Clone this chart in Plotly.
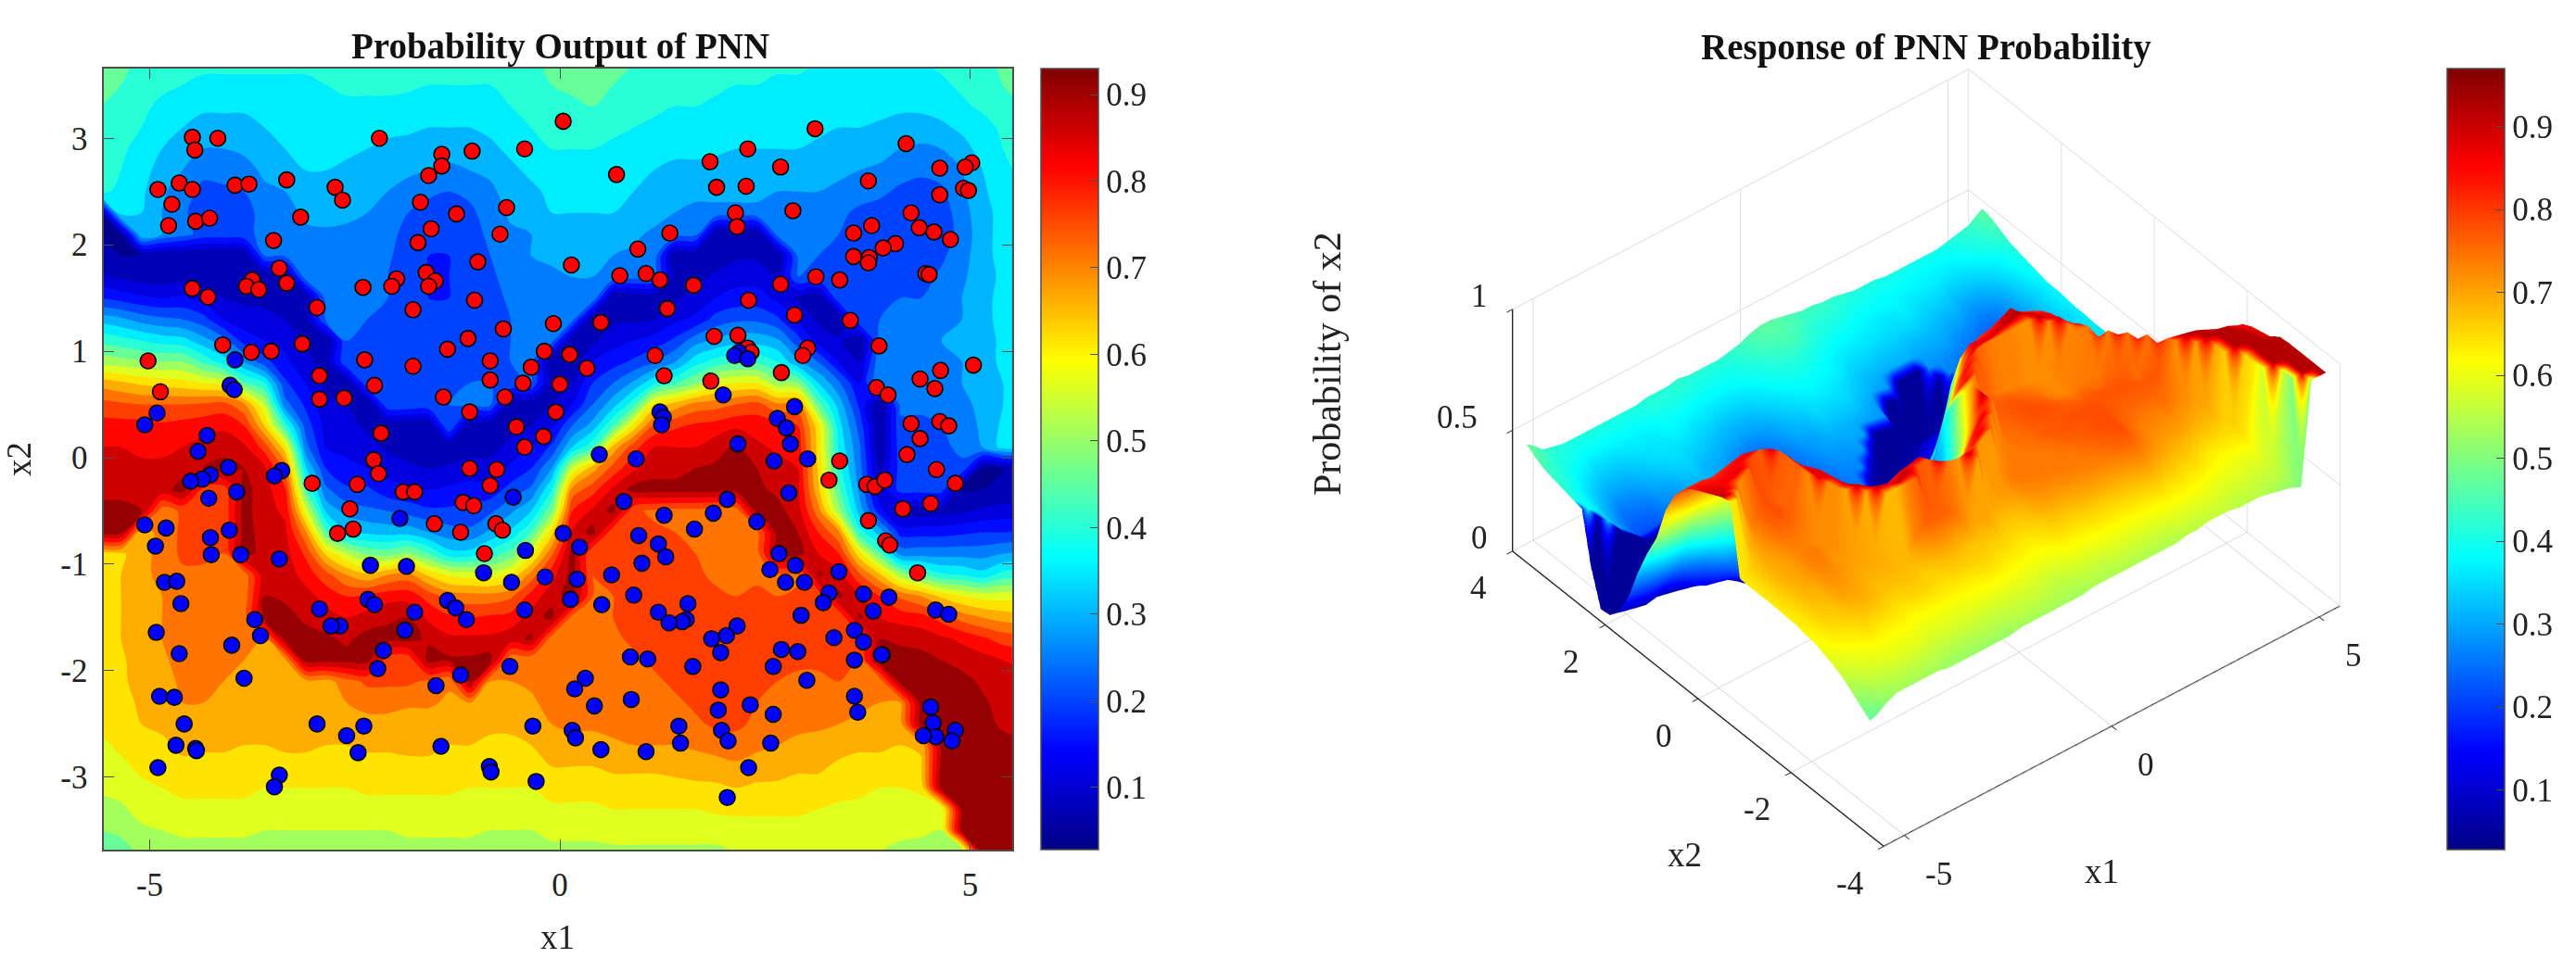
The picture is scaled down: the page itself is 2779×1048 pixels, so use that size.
import numpy as np
import plotly.graph_objects as go

W, H = 2779, 1048
SERIF = "Liberation Serif"

# MATLAB jet
jet = [[0, "rgb(0,0,132)"], [0.125, "rgb(0,0,255)"], [0.375, "rgb(0,255,255)"],
       [0.625, "rgb(255,255,0)"], [0.875, "rgb(255,0,0)"], [1, "rgb(128,0,0)"]]
# the same map as filled contours read it (by level index, from the level's lower bound)
jet_levels = [[0, "rgb(0,0,140)"], [0.156, "rgb(0,0,255)"], [0.407, "rgb(0,255,255)"],
              [0.64, "rgb(255,255,0)"], [0.895, "rgb(255,0,0)"], [1, "rgb(150,0,0)"]]

red_x1 = [-4.48,-4.45,-4.17,-2.20,0.04,-0.43,-1.07,-1.44,-1.44,-1.60,-4.90,-4.64,-4.48,-3.96,-3.79,-3.33,-2.74,-2.65,-4.73,-4.77,
 -4.44,-4.27,-3.16,-1.70,-1.26,-0.65,-1.57,-0.73,-3.49,-1.73,-3.42,-1.00,-3.75,-3.82,-3.67,-3.33,-4.48,-4.29,-2.40,-1.99,
 -2.05,-1.63,-1.52,-1.60,-2.96,-1.04,-1.79,-0.08,-0.69,-1.12,-4.11,-3.76,-3.52,-3.14,-1.37,-5.02,-2.38,-1.79,-0.85,-0.19,
 -0.35,0.12,-2.93,-4.87,-2.26,-0.85,-0.45,0.00,-2.93,-2.63,-1.42,-0.67,-1.10,-0.05,-2.18,-0.53,-0.20,-0.43,
 -2.27,-2.21,-1.10,-0.77,-3.02,-2.47,-1.91,-1.77,-0.85,-1.18,-1.05,-2.56,-2.52,-2.71,-1.53,-1.21,-0.78,-0.70,-0.92,
 3.11,4.22,0.69,2.29,1.83,2.69,4.63,5.02,4.94,3.76,1.91,2.27,4.63,4.92,4.98,2.14,2.84,4.28,2.16,3.80,4.38,4.56,4.76,3.58,1.34,
 4.09,3.94,0.95,3.58,3.77,3.76,4.46,4.50,0.14,0.73,1.05,1.22,1.63,2.69,3.12,3.41,2.30,1.31,2.86,3.54,0.50,1.88,2.17,3.89,2.29,
 2.33,3.02,2.96,1.16,0.33,5.04,4.64,4.39,2.70,1.27,1.84,4.57,3.86,4.00,4.28,4.63,4.74,4.39,4.23,4.59,3.41,
 3.28,3.74,3.84,3.96,4.82,4.18,4.52,3.76,3.97,4.02,4.36]
red_x2 = [3.01,2.89,3.00,3.00,3.16,2.90,2.88,2.85,2.74,2.65,2.52,2.58,2.52,2.56,2.57,2.61,2.54,2.42,2.38,2.18,
 2.22,2.25,2.26,2.40,2.29,2.35,2.15,2.10,2.04,2.02,1.78,1.84,1.67,1.61,1.58,1.64,1.59,1.51,1.60,1.68,
 1.61,1.74,1.66,1.61,1.41,1.48,1.39,1.26,1.21,1.12,1.06,0.99,1.00,1.07,1.02,0.91,0.92,0.86,0.91,1.00,
 0.85,0.97,0.77,0.62,0.68,0.73,0.70,0.69,0.55,0.56,0.57,0.57,0.43,0.43,0.23,0.29,0.20,0.10,
 -0.02,-0.15,-0.10,-0.11,-0.24,-0.25,-0.32,-0.32,-0.26,-0.42,-0.45,-0.48,-0.67,-0.71,-0.62,-0.70,-0.62,-0.68,-0.90,
 3.09,2.95,2.66,2.90,2.78,2.73,2.72,2.77,2.73,2.60,2.54,2.55,2.47,2.53,2.51,2.30,2.32,2.30,2.17,2.18,2.16,2.12,2.05,2.11,2.11,
 2.01,1.97,1.96,1.89,1.88,1.83,1.73,1.72,1.81,1.71,1.73,1.67,1.62,1.63,1.70,1.67,1.48,1.40,1.34,1.29,1.27,1.14,1.15,1.05,1.03,
 0.99,1.03,0.96,0.96,0.84,0.87,0.82,0.74,0.80,0.77,0.72,0.65,0.66,0.59,0.32,0.34,0.30,0.18,0.03,-0.11,-0.03,
 -0.21,-0.25,-0.27,-0.21,-0.24,-0.48,-0.43,-0.59,-0.78,-0.82,-1.08]

blue_x1 = [-3.96,-4.02,-3.97,-4.91,-5.06,-4.30,-4.41,
 -4.04,-3.39,-3.48,-4.26,-4.36,-4.50,-3.94,-4.28,-5.06,-4.80,-4.03,-4.26,-4.93,-4.25,-3.89,-3.42,-4.82,-4.67,-4.62,-4.92,-3.72,-3.65,-4.00,
 -4.64,-3.85,-4.88,-4.70,-4.58,-4.68,-4.44,-4.43,-4.90,-3.42,-3.48,-2.96,-2.39,-2.60,-2.46,-1.45,-0.86,-0.84,-0.29,-0.33,-1.51,-1.21,-0.61,
 -2.22,-2.15,-1.89,-2.68,-2.79,-2.93,-2.34,-2.26,-1.77,-1.37,-1.27,-1.14,-0.43,-0.59,-0.18,-0.93,-0.42,0.04,-1.87,-2.31,-1.95,-0.57,
 2.18,2.13,2.29,1.99,2.86,1.22,1.26,1.24,2.65,2.76,2.17,2.81,0.48,0.93,2.61,3.02,
 2.79,0.78,2.04,1.87,1.27,2.40,1.64,0.96,0.24,1.20,1.29,1.00,2.67,2.87,2.56,3.40,0.63,0.21,2.75,2.98,0.90,3.28,3.21,0.13,0.51,3.70,4.01,
 1.56,3.82,1.20,4.58,4.74,2.94,1.54,1.49,1.33,2.16,3.59,2.03,1.85,3.34,3.70,1.96,2.70,2.90,0.86,1.07,3.93,3.92,3.59,1.62,2.60,0.31,3.01,
 0.18,1.96,0.87,0.42,2.32,3.59,1.93,2.60,3.63,4.52,4.55,1.45,0.15,0.19,1.97,4.82,4.58,4.43,4.78,2.05,1.47,2.57,0.50,1.05,2.30,2.04]
blue_x2 = [0.92,0.68,0.64,0.42,0.31,0.21,0.06,
 -0.09,-0.12,-0.17,-0.16,-0.20,-0.22,-0.32,-0.38,-0.63,-0.66,-0.68,-0.75,-0.83,-0.91,-0.91,-0.95,-1.17,-1.16,-1.37,-1.64,-1.52,-1.67,-1.76,
 -1.84,-2.07,-2.24,-2.25,-2.50,-2.70,-2.73,-2.75,-2.91,-2.98,-3.09,-2.50,-2.52,-2.61,-2.77,-2.71,-2.90,-2.95,-3.04,-2.52,-2.14,-2.04,-1.96,
 -1.98,-1.81,-1.62,-1.58,-1.58,-1.42,-1.33,-1.38,-1.45,-1.34,-1.41,-1.52,-1.43,-1.17,-1.12,-1.08,-0.87,-0.71,-1.02,-1.01,-0.57,-0.37,
 0.99,0.96,0.93,0.59,0.48,0.43,0.38,0.31,0.37,0.28,0.13,0.13,0.03,-0.01,-0.03,-0.01,
 -0.33,-0.41,-0.39,-0.52,-0.54,-0.60,-0.67,-0.73,-0.84,-0.81,-0.93,-0.99,-0.90,-1.01,-1.05,-1.07,-1.10,-1.14,-1.17,-1.17,-1.29,-1.27,-1.36,-1.33,-1.38,-1.28,-1.31,
 -1.37,-1.44,-1.45,-1.43,-1.47,-1.48,-1.52,-1.54,-1.55,-1.58,-1.62,-1.67,-1.70,-1.69,-1.73,-1.83,-1.80,-1.82,-1.87,-1.89,-1.85,-1.85,-1.90,-1.96,-1.96,-2.07,-2.09,
 -2.17,-2.18,-2.27,-2.33,-2.32,-2.24,-2.37,-2.41,-2.39,-2.34,-2.49,-2.52,-2.56,-2.63,-2.56,-2.56,-2.62,-2.61,-2.66,-2.66,-2.68,-2.68,-2.74,-2.76,-2.91,-3.19]

grid_x1 = [-5.6,-5.35,-5.1,-4.85,-4.6,-4.35,-4.1,-3.85,-3.6,-3.35,-3.1,-2.85,-2.6,-2.35,-2.1,-1.85,-1.6,-1.35,-1.1,-.85,-.6,-.35,-.1,
           .15,.4,.65,.9,1.15,1.4,1.65,1.9,2.15,2.4,2.65,2.9,3.15,3.4,3.65,3.9,4.15,4.4,4.65,4.9,5.15,5.4,5.65]
grid_x2 = [3.7,3.5,3.3,3.1,2.9,2.7,2.5,2.3,2.1,1.9,1.7,1.5,1.3,1.1,.9,.7,.5,.3,.1,-.1,-.3,-.5,-.7,-.9,-1.1,-1.3,-1.5,-1.7,-1.9,-2.1,
           -2.3,-2.5,-2.7,-2.9,-3.1,-3.3,-3.5,-3.7]

# probability in hundredths, one list per x1 column, top to bottom in x2
prob_cols = [
 [50,47,45,44,43,42,41,5,5,6, 11,20,33,44,53,68,77,82,85,87, 89,91,92,63,62,62,62,62,62,62, 61,61,59,58,56,53,50,47],
 [47,45,43,42,41,40,39,39,5,5, 9,18,31,42,52,66,76,82,85,87, 89,91,92,64,65,65,65,65,64,64, 63,62,61,59,57,54,51,48],
 [43,42,41,40,38,37,36,35,35,5, 8,16,28,40,51,64,75,82,84,86, 88,90,67,68,69,69,69,68,68,67, 66,65,63,61,59,57,54,51],
 [42,41,39,37,35,33,31,30,30,5, 7,15,26,38,50,63,75,81,84,86, 88,72,72,72,71,70,70,70,69,68, 67,66,64,62,60,58,55,53],
 [41,40,38,35,32,30,27,26,27,5, 8,16,25,37,50,62,75,82,85,88, 92,76,76,76,74,73,73,73,72,71, 70,68,66,64,61,59,56,53],
 [41,39,36,33,30,26,24,22,23,5, 7,13,22,32,44,60,76,83,87,90, 78,78,78,76,74,73,74,73,72,71, 70,69,66,63,61,59,56,53],
 [41,39,36,33,30,27,24,22,23,5, 6,10,15,27,38,58,77,84,88,92, 77,76,76,75,73,72,72,71,71,70, 69,68,66,63,61,59,56,53],
 [41,39,36,33,31,28,25,23,24,5, 6,9,12,18,30,46,71,80,86,90, 92,92,92,92,72,72,72,71,70,69, 68,67,65,63,61,59,56,53],
 [41,39,37,35,33,31,29,27,26,25, 5,9,11,15,22,40,55,65,78,86, 87,87,88,88,89,90,92,70,70,69, 68,67,65,62,60,58,55,52],
 [41,39,37,36,35,33,30,28,27,26, 5,7,10,14,16,21,27,43,62,74, 81,84,86,87,88,89,92,92,69,69, 68,67,66,63,60,58,55,52],
 [41,39,37,36,36,35,33,31,29,28, 28,5,7,9,12,15,19,23,27,36, 46,58,71,79,83,87,89,92,92,68, 68,67,66,63,60,58,55,52],
 [41,40,38,37,36,35,34,32,29,28, 27,27,26,5,7,9,11,13,15,20, 26,34,46,64,77,83,87,91,92,68, 68,66,65,63,60,58,55,52],
 [42,41,39,38,36,34,32,31,29,27, 26,26,26,25,25,5,10,12,14,16, 21,28,36,55,70,80,85,89,92,73, 70,67,65,63,60,58,55,52],
 [42,41,39,37,35,33,31,30,29,27, 26,26,25,25,24,24,5,9,12,15, 21,26,34,49,66,81,87,92,92,76, 72,68,66,63,61,58,55,52],
 [42,41,39,36,34,32,30,28,27,26, 25,25,24,24,24,24,24,5,9,13, 17,25,33,48,70,83,89,92,77,76, 72,68,66,63,61,58,55,52],
 [43,41,38,36,33,31,28,25,23,22, 21,21,22,22,23,24,24,5,8,11, 16,23,33,51,72,83,90,92,76,76, 71,67,66,64,61,58,56,53],
 [42,40,38,35,32,30,26,23,21,20, 20,20,21,21,23,24,24,5,7,10, 15,21,30,45,64,78,84,89,92,74, 71,67,66,64,61,58,56,53],
 [42,40,38,35,32,29,25,22,21,20, 20,20,21,22,23,24,25,26,5,11, 16,21,27,37,59,73,81,86,91,71, 69,67,65,63,61,58,56,53],
 [42,40,38,35,32,30,26,24,23,22, 22,22,23,23,24,25,26,5,8,12, 17,22,26,37,58,72,80,86,91,92, 70,67,65,63,60,58,56,53],
 [42,40,39,36,34,31,29,27,26,25, 24,23,23,23,24,25,26,5,8,12, 17,24,31,42,57,72,81,86,92,70, 68,66,64,62,60,57,55,53],
 [43,41,40,38,36,34,32,31,29,28, 27,26,25,25,25,25,5,8,12,16, 22,29,36,47,61,74,82,88,71,70, 68,66,64,62,60,57,55,53],
 [44,43,41,40,38,36,34,32,30,30, 29,28,27,26,26,25,5,10,15,20, 26,35,45,58,72,82,87,91,71,71, 69,67,65,63,60,58,55,53],
 [46,45,43,41,40,38,36,35,33,31, 29,28,27,27,5,7,10,14,21,30, 40,49,63,74,83,88,92,72,74,74, 72,70,67,65,62,59,56,54],
 [47,46,44,42,40,39,37,35,33,31, 30,29,27,5,6,10,15,25,35,56, 72,80,86,92,92,92,73,74,74,74, 73,71,68,65,62,59,56,54],
 [47,46,45,42,40,38,37,35,33,31, 30,29,5,9,15,20,25,32,44,68, 78,86,92,75,75,75,74,74,74,74, 73,71,68,65,62,59,56,54],
 [46,45,44,41,39,38,36,35,33,30, 28,5,9,13,18,25,33,45,67,77, 86,92,76,76,76,75,75,74,74,74, 74,72,69,66,63,60,57,54],
 [45,44,42,40,38,37,35,33,31,29, 27,5,9,15,21,31,43,62,78,84, 92,76,76,77,77,77,76,76,74,74, 74,72,70,66,63,60,57,54],
 [44,42,41,39,37,35,33,32,29,28, 26,5,10,17,25,39,62,76,85,88, 92,74,76,77,78,78,77,77,76,74, 74,73,70,66,63,60,57,54],
 [44,42,40,38,36,34,32,30,28,5, 7,9,14,21,30,44,67,79,85,88, 92,73,75,76,77,78,77,77,77,76, 74,73,70,67,63,60,57,54],
 [43,42,40,38,36,34,31,29,27,5, 8,12,16,28,38,50,72,81,85,90, 92,73,74,75,76,77,77,78,77,77, 76,74,71,67,64,60,57,54],
 [43,41,39,37,36,33,31,29,5,7, 11,15,22,31,42,58,73,82,88,91, 92,72,73,73,74,76,77,78,78,78, 77,76,72,68,64,61,57,54],
 [42,40,38,37,35,33,31,29,5,9, 13,17,24,33,44,60,75,84,91,92, 92,72,72,72,73,75,77,78,78,78, 78,76,73,69,65,61,58,55],
 [41,40,38,36,35,33,31,29,5,9, 13,17,24,33,44,60,77,83,86,90, 91,92,73,73,74,76,77,77,77,76, 75,74,71,68,64,61,58,55],
 [41,39,38,36,35,32,30,28,27,5, 10,14,21,31,40,52,71,82,84,87, 89,92,92,92,74,75,77,77,76,75, 73,72,70,67,64,61,58,56],
 [41,39,38,37,35,32,30,28,27,26, 25,9,14,22,31,50,72,80,83,85, 86,87,90,92,74,76,77,77,76,74, 73,71,69,66,63,61,58,56],
 [40,39,37,36,34,32,30,27,26,25, 24,5,9,13,25,35,47,62,63,64, 66,72,80,85,91,76,77,77,76,74, 72,71,68,66,63,60,58,56],
 [40,39,37,35,33,31,29,26,25,24, 24,24,5,11,15,26,33,37,39,42, 46,52,71,80,87,91,75,77,76,75, 72,70,67,64,62,59,57,55],
 [40,38,37,35,32,30,27,24,23,23, 23,24,25,5,10,15,19,23,26,27, 29,33,42,62,76,86,91,77,75,73, 71,69,66,63,61,59,57,55],
 [40,38,37,34,32,29,26,23,22,22, 22,23,25,27,29,29,5,5,5,8, 11,17,33,46,66,80,85,90,92,72, 70,68,66,63,60,59,57,55],
 [40,38,36,33,30,27,24,22,21,22, 23,25,27,28,29,28,26,24,23,22, 22,7,18,28,53,74,83,89,92,92, 70,68,65,63,60,58,56,54],
 [40,38,36,33,29,26,23,21,20,21, 23,25,27,29,29,28,26,24,23,22, 22,7,18,28,47,70,82,88,92,92, 92,92,66,64,61,58,56,53],
 [41,39,37,34,30,27,24,22,22,24, 26,28,29,30,30,29,27,25,24,23, 22,8,18,28,41,64,78,86,90,92, 92,92,92,92,92,57,55,52],
 [42,41,39,36,33,30,29,28,27,28, 29,30,30,31,30,30,29,27,26,24, 5,9,19,28,40,60,73,84,88,92, 92,92,92,92,92,92,92,50],
 [43,42,41,38,37,35,34,33,33,33, 33,34,34,33,33,32,31,31,30,5, 5,11,20,28,37,58,70,81,87,89, 91,92,92,92,92,92,92,92],
 [46,45,43,41,40,39,38,37,37,37, 36,36,36,36,36,35,35,36,37,5, 6,12,20,30,42,58,68,78,85,87, 88,89,92,92,92,92,92,92],
 [48,47,45,43,42,41,40,39,39,38, 38,38,37,37,37,36,36,37,38,6, 7,13,21,31,43,58,67,77,84,86, 87,88,91,92,92,92,92,92],
]
prob = np.array(prob_cols).T / 100.0

# the surface's cliffs carry the colour of their foot, as flat facets do
wall_colour = prob.copy()
for r in range(prob.shape[0] - 1):
    cliff = prob[r] - prob[r + 1] >= 0.1
    wall_colour[r][cliff] = prob[r + 1][cliff]
for c in range(1, prob.shape[1]):
    cliff = prob[:, c] - prob[:, c - 1] >= 0.1
    wall_colour[:, c][cliff] = np.minimum(wall_colour[:, c], prob[:, c - 1])[cliff]

x_ticks = [-5, 0, 5]
y_ticks_2d = [-3, -2, -1, 0, 1, 2, 3]
y_ticks_3d = [-4, -2, 0, 2, 4]
z_ticks = [0, 0.5, 1]
cbar_ticks = [0.1, 0.2, 0.3, 0.4, 0.5, 0.6, 0.7, 0.8, 0.9]

fig = go.Figure()
tick_font = dict(family=SERIF, size=35, color="#222")
label_font = dict(family=SERIF, size=37, color="#222")
AX = "#4d4d4d"

# colourbar source (hidden below the filled contours)
fig.add_trace(go.Heatmap(x=grid_x1, y=grid_x2, z=prob, colorscale=jet, zmin=0.028, zmax=0.93,
    hoverinfo="skip", zsmooth="best",
    colorbar=dict(x=1123/W, xanchor="left", xpad=0, ypad=0, y=0.5*(2-(74+917)/H), yanchor="middle",
                  len=843/H, lenmode="fraction", thickness=62, thicknessmode="pixels",
                  tickvals=cbar_ticks, ticktext=[str(v) for v in cbar_ticks], ticks="inside", ticklen=9,
                  tickcolor=AX, outlinecolor=AX, outlinewidth=1.5, tickfont=tick_font)))
fig.add_trace(go.Contour(x=grid_x1, y=grid_x2, z=prob, colorscale=jet_levels,
    autocontour=False, contours=dict(start=0.05, end=0.9, size=0.05, coloring="fill", showlines=False),
    line=dict(width=0), showscale=False, connectgaps=True))
fig.add_trace(go.Scatter(x=red_x1, y=red_x2, mode="markers", name="x1",
    marker=dict(color="rgb(255,0,0)", size=17, line=dict(color="black", width=1.6))))
fig.add_trace(go.Scatter(x=blue_x1, y=blue_x2, mode="markers", name="x2",
    marker=dict(color="rgb(0,0,255)", size=17, line=dict(color="black", width=1.6))))

fig.add_trace(go.Surface(x=grid_x1, y=grid_x2, z=prob, surfacecolor=wall_colour, colorscale=jet, cmin=0.028, cmax=0.97,
    lighting=dict(ambient=1, diffuse=0, specular=0, fresnel=0, roughness=1),
    hoverinfo="skip", scene="scene",
    colorbar=dict(x=2640/W, xanchor="left", xpad=0, ypad=0, y=0.5*(2-(74+917)/H), yanchor="middle",
                  len=843/H, lenmode="fraction", thickness=62, thicknessmode="pixels",
                  tickvals=cbar_ticks, ticktext=[str(v) for v in cbar_ticks], ticks="inside", ticklen=9,
                  tickcolor=AX, outlinecolor=AX, outlinewidth=1.5, tickfont=tick_font)))

def tick_ann(x, y, z, text, dx, dy):
    return dict(x=x, y=y, z=z, text=text, showarrow=False, xshift=dx, yshift=dy, font=tick_font)

scene_ann = []
for v in x_ticks:
    scene_ann.append(tick_ann(v, -4, 0, str(v), 37, -42))
for v in y_ticks_3d:
    scene_ann.append(tick_ann(-5.5, v, 0, str(v), -37, -40))
for v in z_ticks:
    scene_ann.append(tick_ann(-5.5, 4, v, str(v), -36 if v != 0.5 else -60, 14))

scene_axis = dict(showbackground=False, gridcolor="#d9d9d9", gridwidth=2, showspikes=False, zeroline=False,
                  showline=True, linecolor="#222", linewidth=3, ticks="outside", ticklen=8, tickcolor="#222",
                  tickwidth=2, showticklabels=False, title=dict(text=""))

fig.update_layout(
    width=W, height=H, autosize=False, margin=dict(l=0, r=0, t=0, b=0),
    paper_bgcolor="white", plot_bgcolor="white", showlegend=False,
    xaxis=dict(domain=[111.5/W, 1091.7/W], range=[-5.565, 5.51], tickvals=x_ticks, ticktext=[str(v) for v in x_ticks],
               ticks="inside", ticklen=11, ticklabelstandoff=6,
               tickcolor=AX, showline=True, mirror="ticks", linecolor=AX, linewidth=2, showgrid=False, zeroline=False,
               tickfont=tick_font, title=dict(text="x1", font=label_font, standoff=24)),
    yaxis=dict(domain=[1-917/H, 1-74/H], range=[-3.68, 3.655], tickvals=y_ticks_2d, ticktext=[str(v) for v in y_ticks_2d],
               ticks="inside", ticklen=11, ticklabelstandoff=8,
               tickcolor=AX, showline=True, mirror="ticks", linecolor=AX, linewidth=2, showgrid=False, zeroline=False,
               tickfont=tick_font, title=dict(text="x2", font=label_font, standoff=24)),
    scene=dict(domain=dict(x=[(2078-500)/W, (2078+500)/W], y=[1-(494+450)/H, 1-(494-450)/H]),
               xaxis=dict(scene_axis, range=[-5.5, 5.5], tickvals=x_ticks),
               yaxis=dict(scene_axis, range=[-4, 4], tickvals=y_ticks_3d),
               zaxis=dict(scene_axis, range=[0, 1], tickvals=z_ticks),
               aspectmode="manual", aspectratio=dict(x=1.41, y=1.41, z=0.761),
               camera=dict(projection=dict(type="orthographic"), up=dict(x=0, y=0, z=1),
                           center=dict(x=0, y=0, z=0), eye=dict(x=-0.481, y=-0.591, z=0.647)),
               annotations=scene_ann),
    annotations=[
        dict(text="<b>Probability Output of PNN</b>", x=604/W, y=1-50/H, xref="paper", yref="paper", showarrow=False,
             xanchor="center", yanchor="middle", font=dict(family=SERIF, size=39, color="#111")),
        dict(text="<b>Response of PNN Probability</b>", x=2078/W, y=1-51/H, xref="paper", yref="paper", showarrow=False,
             xanchor="center", yanchor="middle", font=dict(family=SERIF, size=39, color="#111")),
        dict(text="Probability of x2", x=1432/W, y=1-393/H, xref="paper", yref="paper", showarrow=False, textangle=-90,
             xanchor="center", yanchor="middle", font=dict(family=SERIF, size=42, color="#222")),
        dict(text="x1", x=2267/W, y=1-940/H, xref="paper", yref="paper", showarrow=False,
             xanchor="center", yanchor="middle", font=label_font),
        dict(text="x2", x=1817/W, y=1-922/H, xref="paper", yref="paper", showarrow=False,
             xanchor="center", yanchor="middle", font=label_font),
    ],
)

fig.write_html("out.html", post_script="document.body.style.margin='0';", config={"displayModeBar": False})
